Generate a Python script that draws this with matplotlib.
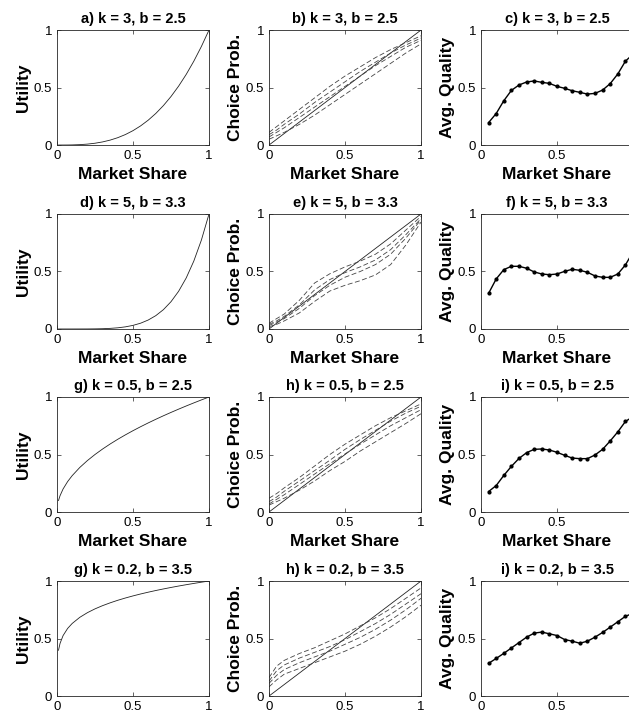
import numpy as np
import matplotlib.pyplot as plt

plt.rcParams['font.family'] = ['Liberation Sans', 'DejaVu Sans']

# utility curves (left column)
u_x = [0.01, 0.02, 0.04, 0.07, 0.1, 0.15, 0.2, 0.25, 0.3, 0.35, 0.4, 0.45, 0.5,
       0.55, 0.6, 0.65, 0.7, 0.75, 0.8, 0.85, 0.9, 0.95, 1.0]
u_k3 = [0.0, 0.0, 0.0001, 0.0003, 0.001, 0.0034, 0.008, 0.0156, 0.027, 0.0429, 0.064,
        0.0911, 0.125, 0.1664, 0.216, 0.2746, 0.343, 0.4219, 0.512, 0.6141, 0.729, 0.8574, 1.0]
u_k5 = [0.0, 0.0, 0.0, 0.0, 0.0, 0.0001, 0.0003, 0.001, 0.0024, 0.0053, 0.0102, 0.0185,
        0.0313, 0.0503, 0.0778, 0.116, 0.168, 0.2373, 0.3277, 0.4437, 0.5905, 0.7738, 1.0]
u_k05 = [0.1, 0.1414, 0.2, 0.2646, 0.3162, 0.3873, 0.4472, 0.5, 0.5477, 0.5916, 0.6325,
         0.6708, 0.7071, 0.7416, 0.7746, 0.8062, 0.8367, 0.866, 0.8944, 0.922, 0.9487, 0.9747, 1.0]
u_k02 = [0.3981, 0.4573, 0.5253, 0.5878, 0.631, 0.6843, 0.7248, 0.7579, 0.786, 0.8105,
         0.8326, 0.8524, 0.8706, 0.8874, 0.9029, 0.9175, 0.9311, 0.9441, 0.9564, 0.968,
         0.9791, 0.9898, 1.0]

# choice probabilities (middle column), four dashed series per panel
c_x = [0.0, 0.05, 0.1, 0.2, 0.3, 0.4, 0.5, 0.6, 0.7, 0.8, 0.9, 1.0]
cp_b = [
    [0.11, 0.16, 0.21, 0.31, 0.41, 0.51, 0.60, 0.68, 0.76, 0.83, 0.89, 0.95],
    [0.09, 0.13, 0.18, 0.27, 0.37, 0.46, 0.55, 0.64, 0.72, 0.80, 0.87, 0.93],
    [0.07, 0.11, 0.15, 0.24, 0.33, 0.42, 0.51, 0.60, 0.69, 0.77, 0.85, 0.91],
    [0.05, 0.08, 0.11, 0.18, 0.26, 0.35, 0.44, 0.53, 0.62, 0.71, 0.80, 0.88],
]
cp_e = [
    [0.05, 0.09, 0.13, 0.25, 0.40, 0.48, 0.54, 0.59, 0.65, 0.74, 0.86, 0.98],
    [0.04, 0.07, 0.11, 0.21, 0.34, 0.43, 0.49, 0.54, 0.60, 0.69, 0.82, 0.96],
    [0.03, 0.06, 0.09, 0.18, 0.29, 0.38, 0.45, 0.50, 0.56, 0.65, 0.79, 0.95],
    [0.02, 0.04, 0.07, 0.14, 0.24, 0.33, 0.38, 0.42, 0.47, 0.56, 0.73, 0.93],
]
cp_h = [
    [0.12, 0.16, 0.21, 0.30, 0.40, 0.50, 0.59, 0.67, 0.75, 0.82, 0.88, 0.94],
    [0.09, 0.13, 0.18, 0.27, 0.36, 0.45, 0.545, 0.63, 0.71, 0.79, 0.86, 0.92],
    [0.07, 0.11, 0.15, 0.24, 0.33, 0.42, 0.505, 0.59, 0.67, 0.75, 0.82, 0.89],
    [0.06, 0.09, 0.12, 0.19, 0.27, 0.36, 0.44, 0.53, 0.61, 0.69, 0.77, 0.855],
]
cp_h2 = [
    [0.16, 0.26, 0.31, 0.37, 0.42, 0.48, 0.54, 0.61, 0.68, 0.76, 0.85, 0.94],
    [0.13, 0.22, 0.27, 0.33, 0.38, 0.43, 0.49, 0.56, 0.63, 0.71, 0.80, 0.89],
    [0.11, 0.18, 0.23, 0.29, 0.34, 0.39, 0.45, 0.51, 0.58, 0.66, 0.75, 0.85],
    [0.08, 0.14, 0.19, 0.24, 0.29, 0.34, 0.39, 0.45, 0.52, 0.60, 0.69, 0.79],
]

# average quality (right column)
q_x = [0.05, 0.1, 0.15, 0.2, 0.25, 0.3, 0.35, 0.4, 0.45, 0.5,
       0.55, 0.6, 0.65, 0.7, 0.75, 0.8, 0.85, 0.9, 0.95, 1.0]
q_c = [0.195, 0.274, 0.385, 0.475, 0.522, 0.548, 0.557, 0.545, 0.536, 0.51,
       0.493, 0.472, 0.458, 0.443, 0.449, 0.478, 0.534, 0.618, 0.729, 0.79]
q_f = [0.31, 0.435, 0.516, 0.545, 0.545, 0.528, 0.496, 0.478, 0.472, 0.478,
       0.501, 0.519, 0.51, 0.493, 0.461, 0.449, 0.449, 0.478, 0.557, 0.67]
q_i = [0.178, 0.23, 0.318, 0.397, 0.466, 0.516, 0.545, 0.548, 0.539, 0.519,
       0.493, 0.469, 0.464, 0.464, 0.496, 0.545, 0.618, 0.697, 0.787, 0.83]
q_i2 = [0.284, 0.327, 0.371, 0.418, 0.465, 0.512, 0.547, 0.556, 0.541, 0.526,
        0.491, 0.477, 0.459, 0.477, 0.512, 0.553, 0.599, 0.646, 0.693, 0.72]

rows = [
    ('a', 'b', 'c', 'k = 3, b = 2.5', u_k3, cp_b, q_c),
    ('d', 'e', 'f', 'k = 5, b = 3.3', u_k5, cp_e, q_f),
    ('g', 'h', 'i', 'k = 0.5, b = 2.5', u_k05, cp_h, q_i),
    ('g', 'h', 'i', 'k = 0.2, b = 3.5', u_k02, cp_h2, q_i2),
]

fig = plt.figure(figsize=(6.29, 7.13), dpi=100)

lefts = [0.0906, 0.4277, 0.7647]
bottoms = [0.7966, 0.5386, 0.2819, 0.0238]
w, h = 0.2417, 0.1613


def style(ax, ylabel, xlabel, last_label='1'):
    ax.set_xlim(0, 1)
    ax.set_ylim(0, 1)
    ax.set_xticks([0, 0.5, 1])
    ax.set_yticks([0, 0.5, 1])
    ax.set_xticklabels(['0', '0.5', last_label])
    ax.set_yticklabels(['0', '0.5', '1'])
    ax.tick_params(direction='in', top=True, right=True, length=3, width=0.5,
                   labelsize=9.5, color='#262626')
    for s in ax.spines.values():
        s.set_linewidth(0.6)
        s.set_color('#262626')
    ax.set_ylabel(ylabel, fontsize=12.5, fontweight='bold', labelpad=2)
    if xlabel:
        ax.set_xlabel(xlabel, fontsize=12.5, fontweight='bold')


for r, (l1, l2, l3, par, u, cps, q) in enumerate(rows):
    xl = 'Market Share' if r < 3 else None

    ax = fig.add_axes([lefts[0], bottoms[r], w, h])
    ax.plot(u_x, u, color='#222222', lw=0.6)
    style(ax, 'Utility', xl)
    ax.set_title(l1 + ') ' + par, fontsize=10.5, fontweight='bold', pad=5)

    ax = fig.add_axes([lefts[1], bottoms[r], w, h])
    ax.plot([0, 1], [0, 1], color='#222222', lw=0.6)
    for cp in cps:
        ax.plot(c_x, cp, color='#444444', lw=0.6, ls=(0, (6, 3)))
    style(ax, 'Choice Prob.', xl)
    ax.set_title(l2 + ') ' + par, fontsize=10.5, fontweight='bold', pad=5)

    # right column runs past the figure edge, its "1" label is not visible
    ax = fig.add_axes([lefts[2], bottoms[r], w, h])
    ax.plot(q_x, q, color='black', lw=1.0, marker='.', markersize=4)
    style(ax, 'Avg. Quality', xl, last_label='')
    ax.set_title(l3 + ') ' + par, fontsize=10.5, fontweight='bold', pad=5)

fig.savefig('out.png', dpi=100)
